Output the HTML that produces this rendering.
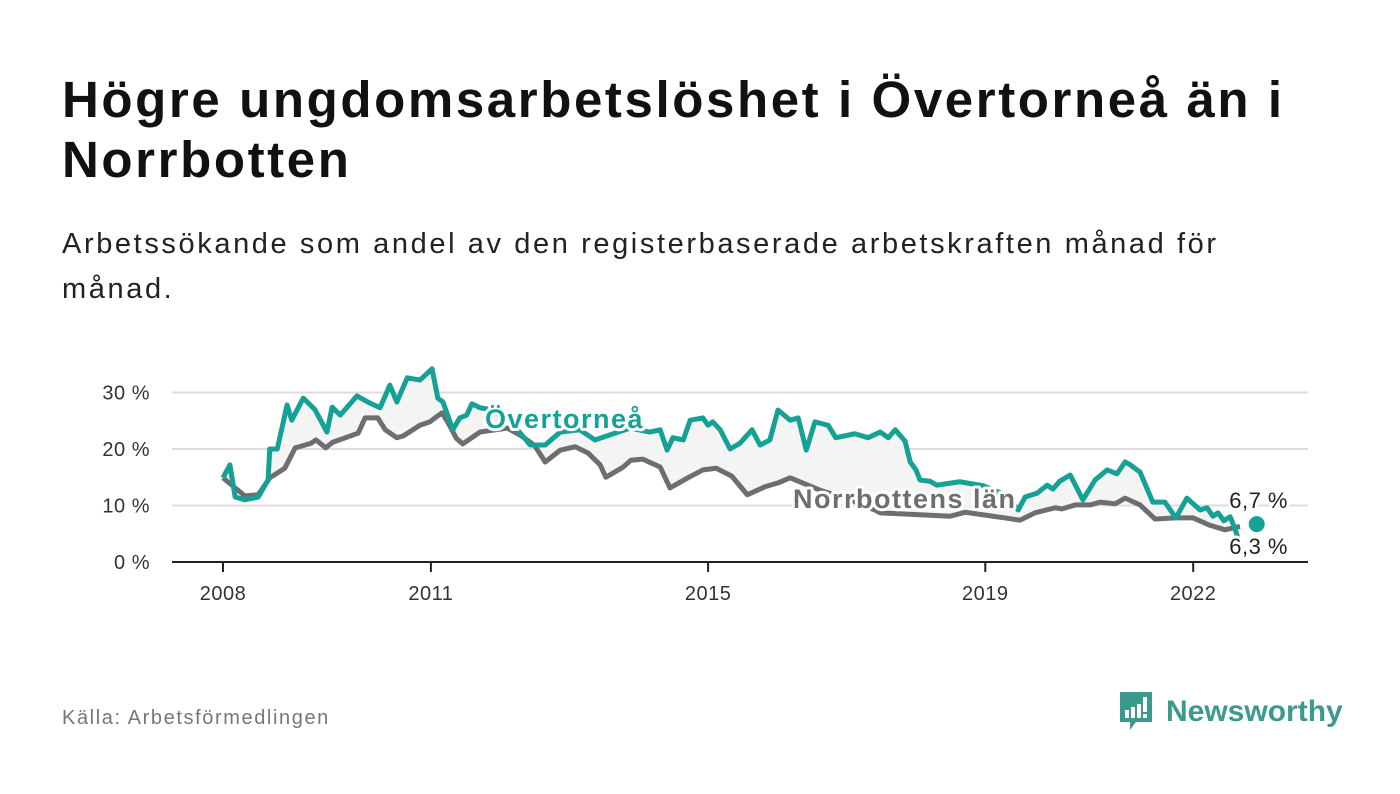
<!DOCTYPE html>
<html><head><meta charset="utf-8">
<style>
body{margin:0;background:#fff;width:1400px;height:794px;overflow:hidden;font-family:"Liberation Sans",sans-serif;position:relative}
.title{position:absolute;left:62px;top:70px;font-size:51px;font-weight:bold;line-height:60px;color:#111;width:1260px;letter-spacing:2.6px}
.sub{position:absolute;left:62px;top:222px;font-size:29px;line-height:45px;color:#222;width:1220px;letter-spacing:2.6px}
.src{position:absolute;left:62px;top:707px;font-size:20px;color:#777;letter-spacing:1.6px}
.logo{position:absolute;left:1118px;top:690px;display:flex;align-items:center}
.logo span{font-size:30px;font-weight:bold;color:#3a9a8e;margin-left:12px}
</style></head><body>
<div class="title">Högre ungdomsarbetslöshet i Övertorneå än i Norrbotten</div>
<div class="sub">Arbetssökande som andel av den registerbaserade arbetskraften månad för månad.</div>
<svg id="chart" width="1400" height="794" style="position:absolute;left:0;top:0"></svg>
<div class="src">Källa: Arbetsförmedlingen</div>
<div class="logo">
<svg width="36" height="44" viewBox="0 0 36 44"><path d="M2 2h32v30H18l-6 8v-8H2z" fill="#3a9a8e"/><rect x="7" y="20" width="4" height="8" fill="#fff"/><rect x="13" y="17" width="4" height="11" fill="#fff"/><rect x="19" y="14" width="4" height="14" fill="#fff"/><rect x="25" y="7" width="4" height="15" fill="#fff"/><rect x="25" y="24" width="4" height="4" fill="#fff"/></svg>
<span>Newsworthy</span></div>
<script>
const yTicks=[0,10,20,30];
const xTickYears=[2008,2011,2015,2019,2022];
const tealMonths=[0,1.2,2.1,3.8,6.1,7.8,8.1,9.4,11.1,11.9,13.9,15.9,18,18.9,20.3,23.2,25.1,27.2,28.9,30.1,31.9,34.1,36.2,37.2,38.1,39.8,41,42.2,43.1,44.5,46.2,49.7,53.2,55.8,58.4,61.8,64.4,67,70.5,73.9,75.7,76.9,77.9,79.7,80.9,83.1,84,84.8,86.1,87.8,89.5,91.6,93,94.7,96.1,98.2,99.6,101,102.5,104.8,106.1,109.4,111.7,113.8,115.2,116.4,118.1,119,120,120.7,122.4,123.6,127.6,131.6,135.4,137.7,138.9,141,142.7,143.7,144.9,146.7,148.9,151,153.1,154.8,156.2,157.1,158.8,161,163.1,165,166.9,169.2,170.4,171.4,172.3,173.3,174.4,175.2,176.1];
const tealValues=[14.9,17.2,11.5,11,11.5,14.5,20,20,27.8,25.1,29,27,23,27.4,26,29.4,28.3,27.3,31.3,28.3,32.6,32.2,34.2,29,28.3,23.4,25.5,26,28,27.3,27,25,20.7,20.7,23,23.4,21.6,22.5,23.7,23,23.4,19.8,22,21.6,25.1,25.5,24.2,24.8,23.4,20,21,23.4,20.7,21.6,26.9,25.1,25.5,19.8,24.8,24.2,22,22.7,22,23,22,23.4,21.4,17.7,16.3,14.5,14.3,13.6,14.2,13.5,11.9,9.2,11.5,12.2,13.6,12.9,14.3,15.4,11,14.5,16.3,15.6,17.7,17.2,15.9,10.6,10.6,7.8,11.3,9.2,9.6,8.1,8.7,7.3,8,6,3];
const grayMonths=[0,2.6,3.8,6.1,8.1,10.7,12.5,15.2,16.1,17.8,19,23.4,24.6,26.8,28.1,30.1,31.2,34.1,35.8,37.9,38.9,40.4,41.5,44.5,49.2,51.4,53.9,55.8,58.4,61,63.2,65.3,66.3,69.3,70.6,72.7,75.7,77.4,80.5,83.1,85.4,88.1,90.8,93.8,96.1,98.2,103.4,108.6,112.9,113.8,125.9,128.5,135.4,138,140.6,144.1,145.3,147.6,150.2,151.9,154.5,156.2,158.8,161.4,164.9,168,170.9,173.5,176.1];
const grayValues=[14.9,12.7,11.7,11.9,14.9,16.6,20.2,21,21.6,20.2,21.2,22.8,25.5,25.5,23.4,22,22.3,24.2,24.8,26.4,24.8,21.9,20.9,23,23.7,22.5,20.7,17.7,19.8,20.4,19.3,17.2,15,16.8,18,18.2,16.8,13.1,14.9,16.3,16.6,15.2,11.9,13.3,14,14.9,12.7,11,9.2,8.7,8.1,8.8,7.8,7.4,8.7,9.6,9.4,10.1,10.1,10.6,10.3,11.3,10.1,7.6,7.8,7.8,6.5,5.7,6.3];
const lastMonth=179, lastTeal=6.7, lastGray=6.3;
const NS='http://www.w3.org/2000/svg';
const svg=document.getElementById('chart');
const x=m=>223+m*(69.3/12);
const y=v=>562-v*5.65;
function el(t,a,p){const e=document.createElementNS(NS,t);for(const k in a)e.setAttribute(k,a[k]);(p||svg).appendChild(e);return e;}
yTicks.forEach(v=>{
 const g=el('line',{x1:172,x2:1308,y1:y(v),y2:y(v),stroke:v?'#ddd':'#222','stroke-width':2});
 
 
 const t=el('text',{x:150,y:y(v)+7,'text-anchor':'end','font-size':20,fill:'#333','letter-spacing':0.5});t.textContent=v+' %';
 
 
});
xTickYears.forEach(yr=>{
 const xx=x((yr-2008)*12);
 const l=el('line',{x1:xx,x2:xx,y1:562,y2:572,stroke:'#222','stroke-width':2});
 
 
 const t=el('text',{x:xx,y:600,'text-anchor':'middle','font-size':20,fill:'#333','letter-spacing':0.5});t.textContent=yr;
 
 
});
let pts=tealMonths.map((m,i)=>x(m)+','+y(tealValues[i]));
for(let i=grayMonths.length-1;i>=0;i--)pts.push(x(grayMonths[i])+','+y(grayValues[i]));
const area=el('polygon',{points:pts.join(' '),fill:'#f4f4f4'});


const gl=el('polyline',{points:grayMonths.map((m,i)=>x(m)+','+y(grayValues[i])).join(' '),fill:'none',stroke:'#6e6e72','stroke-width':5,'stroke-linejoin':'round'});


const tl=el('polyline',{points:tealMonths.map((m,i)=>x(m)+','+y(tealValues[i])).join(' '),fill:'none',stroke:'#15a196','stroke-width':5,'stroke-linejoin':'round'});


const dot=el('circle',{cx:x(lastMonth),cy:y(lastTeal),r:8,fill:'#15a196'});


function lab(txt,xx,yy,fill,size,weight,name,anchor,ls){
 const t=el('text',{x:xx,y:yy,'font-size':size,'font-weight':weight,fill:fill,stroke:'#fff','stroke-width':6,'paint-order':'stroke','stroke-linejoin':'round','text-anchor':anchor||'start','letter-spacing':ls||0});
 t.textContent=txt;
 
 
}
lab('Övertorneå',485,428,'#15a196',27,'bold','overtornea-label','start',1.5);
lab('Norrbottens län',793,508,'#6e6e72',27,'bold','norrbotten-label','start',1.5);
lab(String(lastTeal).replace('.',',')+' %',1288,508,'#222',22,'normal','overtornea-end-value','end',0.5);
lab(String(lastGray).replace('.',',')+' %',1288,554,'#222',22,'normal','norrbotten-end-value','end',0.5);
</script>
</body></html>
